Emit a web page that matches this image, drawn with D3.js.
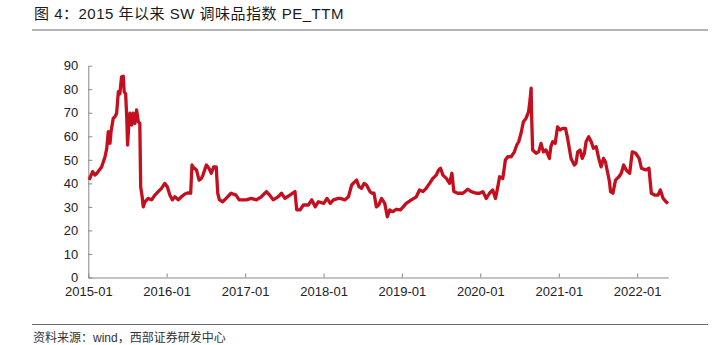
<!DOCTYPE html>
<html><head><meta charset="utf-8">
<script src="https://cdn.jsdelivr.net/npm/d3@7"></script>
<style>body{margin:0;background:#fff}svg{display:block}</style>
</head><body>
<svg id="c" width="722" height="345"></svg>
<script>
const titleText = "图 4：2015 年以来 SW 调味品指数 PE_TTM";
const sourceText = "资料来源：wind，西部证券研发中心";
const yTicks = [0,10,20,30,40,50,60,70,80,90];
const xTickLabels = ["2015-01","2016-01","2017-01","2018-01","2019-01","2020-01","2021-01","2022-01"];
const dates = [
"2015-01-05","2015-01-21","2015-02-01","2015-02-10","2015-03-04","2015-03-20","2015-03-28","2015-04-04","2015-04-12","2015-04-17",
"2015-04-27","2015-05-05","2015-05-13","2015-05-21","2015-05-28","2015-06-05","2015-06-13","2015-06-17","2015-06-24","2015-06-29",
"2015-07-03","2015-07-09","2015-07-14","2015-07-22","2015-07-29","2015-08-06","2015-08-14","2015-08-22","2015-08-29","2015-09-02",
"2015-09-09","2015-09-14","2015-09-22","2015-10-07","2015-10-23","2015-11-07","2015-11-23","2015-12-08","2015-12-23",
"2016-01-04","2016-01-16","2016-01-27","2016-02-08","2016-02-24","2016-03-10","2016-03-26","2016-04-10","2016-04-22","2016-04-28",
"2016-05-03","2016-05-19","2016-05-31","2016-06-11","2016-06-18","2016-07-04","2016-07-16","2016-07-27","2016-08-07","2016-08-19",
"2016-08-26","2016-09-03","2016-09-18","2016-10-04","2016-10-27","2016-11-19","2016-12-04",
"2017-01-06","2017-01-29","2017-02-22","2017-03-17","2017-04-10","2017-04-25","2017-05-11","2017-06-03","2017-06-19","2017-07-05",
"2017-07-28","2017-08-21","2017-08-29","2017-09-13","2017-09-29","2017-10-22","2017-11-07","2017-11-23","2017-12-08",
"2018-01-02","2018-01-17","2018-02-01","2018-02-16","2018-03-11","2018-03-19","2018-04-11","2018-04-27","2018-05-12","2018-05-27",
"2018-06-04","2018-06-15","2018-06-27","2018-07-09","2018-07-20","2018-08-05","2018-08-15","2018-08-24","2018-09-04","2018-09-15",
"2018-09-28","2018-10-13","2018-10-25","2018-11-05","2018-11-20","2018-12-06","2018-12-25",
"2019-01-07","2019-01-21","2019-02-14","2019-03-09","2019-03-24","2019-04-09","2019-04-24","2019-05-10","2019-05-25","2019-06-10",
"2019-06-21","2019-06-30","2019-07-11","2019-07-27","2019-08-11","2019-08-22","2019-08-31","2019-09-18","2019-10-12","2019-11-04",
"2019-11-20","2019-12-13","2019-12-29",
"2020-01-13","2020-01-29","2020-02-13","2020-02-28","2020-03-12","2020-03-23","2020-03-31","2020-04-15","2020-04-27","2020-05-08",
"2020-05-24","2020-06-08","2020-06-19","2020-06-28","2020-07-09","2020-07-20","2020-08-01","2020-08-13","2020-08-20","2020-08-25",
"2020-08-27","2020-09-01","2020-09-17","2020-09-29","2020-10-10","2020-10-21","2020-11-02","2020-11-18","2020-11-25","2020-12-03",
"2020-12-15","2020-12-26",
"2021-01-07","2021-01-19","2021-02-01","2021-02-11","2021-02-27","2021-03-14","2021-03-22","2021-03-30","2021-04-10","2021-04-20",
"2021-04-30","2021-05-08","2021-05-20","2021-06-01","2021-06-11","2021-06-24","2021-07-06","2021-07-17","2021-07-28","2021-08-06",
"2021-08-17","2021-08-25","2021-08-30","2021-09-10","2021-09-22","2021-10-08","2021-10-19","2021-10-30","2021-11-11","2021-11-27",
"2021-12-09","2021-12-25",
"2022-01-10","2022-01-21","2022-02-10","2022-02-25","2022-03-08","2022-03-24","2022-04-08","2022-04-19","2022-05-02","2022-05-17",
"2022-05-25"
];
const peValues = [
41.5,45,43.5,44.3,47,51.3,54.9,62,57,62,
67.6,68.3,69.8,79,78,85.3,85.5,79,78,68.3,
56.3,65.5,69.8,64.8,69.8,65.5,71.2,66.2,65.5,38.6,
34.3,30,32.2,33.6,33,35,36.5,37.9,40,
38.6,35,33,34.3,33,34.3,35.5,36,35.8,47.8,
47,45.7,41.4,42.1,43.5,47.8,46.4,44.3,47,47,
35.8,33,32.2,33.6,35.8,35,33,
33,33.6,33,34.3,36.5,35,33,34.3,35.8,33.6,
35,36.5,28.7,28.7,30.8,30.8,33,30,32.2,
31.5,33.6,31.5,33,33.6,33.6,33,34.3,39.3,40.7,
41.4,38.6,37.9,40,39.3,36.5,35.8,35.8,30,30.8,
33.6,31.5,25.8,28.7,28,29,28.7,
30,31.5,33,34.3,37.2,36.5,37.9,40,42.1,43.5,
45.7,46.4,43.5,42.1,40,44.3,36.5,35.8,35.8,37.5,
36.5,35.8,35.8,
36.5,33.6,35.8,37.2,33.6,38.6,42.8,42.1,49.9,51.3,
51.3,53.4,56.3,57.7,61.3,66.2,67.6,70.4,75.4,80.5,
69.8,54.2,52.8,53.4,57,53.4,54.2,50.6,55.6,57.7,
57,64,
62.7,63.4,63.4,59.1,50.6,47.8,48.5,53.4,54.2,50.6,
52.8,57.7,59.8,57.7,54.9,55.6,50.6,47,50.6,49.2,
44.3,40.7,36.5,35.8,41.4,42.8,44.3,47.8,45.7,44.3,
53.4,52.8,
50.6,46.4,45.7,46.4,35.8,35,35,37.2,33.6,32,
31.5
];

const parse = d3.timeParse("%Y-%m-%d");
const data = dates.map((d,i)=>({date:parse(d), v:peValues[i]}));
const svg = d3.select("#c");
const FONT = "'Liberation Sans', Arial, 'Noto Sans CJK SC', sans-serif";

const x = d3.scaleTime().domain([parse("2015-01-01"), parse("2022-05-26")]).range([88.3, 668.3]);
const y = d3.scaleLinear().domain([0,90]).range([277.5, 65.7]);

// title
svg.append("text").attr("x",34).attr("y",19).attr("font-family",FONT).attr("font-size",15)
  .attr("letter-spacing",0.5).attr("fill","#1a1a1a").text(titleText);
svg.append("line").attr("x1",32).attr("x2",708).attr("y1",30).attr("y2",30).attr("stroke","#6b6b6b").attr("stroke-width",1.2);

// y axis
const yAxis = d3.axisLeft(y).tickValues(yTicks).tickSizeInner(-4).tickSizeOuter(0).tickPadding(10);
const gy = svg.append("g").attr("transform","translate(88.3,0)").call(yAxis);
gy.selectAll("text").attr("font-family",FONT).attr("font-size",13).attr("fill","#222");
gy.selectAll("line,path").attr("stroke","#888");

// x axis
const xTickDates = xTickLabels.map(s=>parse(s+"-01"));
const xAxis = d3.axisBottom(x).tickValues(xTickDates).tickFormat((d,i)=>xTickLabels[i])
  .tickSizeInner(-4).tickSizeOuter(0).tickPadding(9);
const gx = svg.append("g").attr("transform","translate(0,277.5)").call(xAxis);
gx.selectAll("text").attr("font-family",FONT).attr("font-size",13).attr("fill","#222");
gx.selectAll("line,path").attr("stroke","#888");

// line
svg.append("path").datum(data)
  .attr("fill","none").attr("stroke","#c40f1f").attr("stroke-width",3.3).attr("stroke-linejoin","round")
  .attr("d", d3.line().x(d=>x(d.date)).y(d=>y(d.v)));

// footer
svg.append("line").attr("x1",32).attr("x2",708).attr("y1",324.5).attr("y2",324.5).attr("stroke","#6b6b6b").attr("stroke-width",1);
svg.append("text").attr("x",33).attr("y",342).attr("font-family",FONT).attr("font-size",12)
  .attr("fill","#333").text(sourceText);
</script>
</body></html>
